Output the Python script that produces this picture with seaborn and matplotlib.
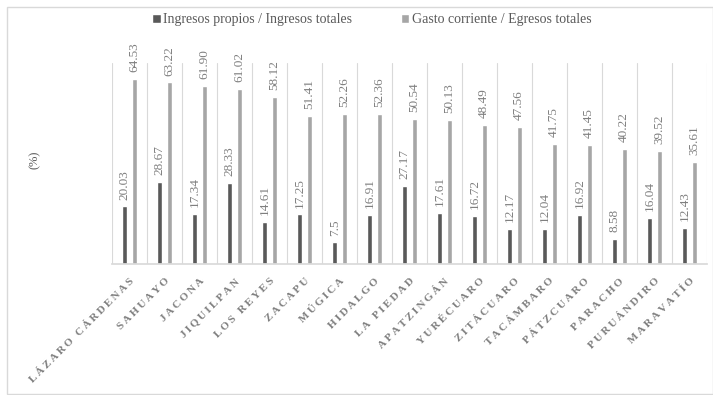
import matplotlib
matplotlib.use('Agg')
import matplotlib.pyplot as plt
import seaborn as sns
import pandas as pd
from matplotlib.patches import Rectangle
from matplotlib.ticker import FixedLocator

municipios = ['LÁZARO CÁRDENAS', 'SAHUAYO', 'JACONA', 'JIQUILPAN', 'LOS REYES',
              'ZACAPU', 'MÚGICA', 'HIDALGO', 'LA PIEDAD', 'APATZINGÁN',
              'YURÉCUARO', 'ZITÁCUARO', 'TACÁMBARO', 'PÁTZCUARO', 'PARACHO',
              'PURUÁNDIRO', 'MARAVATÍO']
ingresos_propios = [20.03, 28.67, 17.34, 28.33, 14.61, 17.25, 7.5, 16.91, 27.17,
                    17.61, 16.72, 12.17, 12.04, 16.92, 8.58, 16.04, 12.43]
gasto_corriente = [64.53, 63.22, 61.90, 61.02, 58.12, 51.41, 52.26, 52.36, 50.54,
                   50.13, 48.49, 47.56, 41.75, 41.45, 40.22, 39.52, 35.61]
serie_1 = 'Ingresos propios / Ingresos totales'
serie_2 = 'Gasto corriente / Egresos totales'

df = pd.DataFrame({
    'municipio': municipios * 2,
    'valor': ingresos_propios + gasto_corriente,
    'serie': [serie_1] * len(municipios) + [serie_2] * len(municipios),
})

sns.set_theme(style='white')
plt.rcParams['font.family'] = ['Liberation Serif', 'DejaVu Serif']

fig = plt.figure(figsize=(7.13, 3.95), dpi=100)
ax = fig.add_axes([112 / 713, 1 - 264 / 395, 595 / 713, 201 / 395])

sns.barplot(data=df, x='municipio', y='valor', hue='serie', order=municipios,
            hue_order=[serie_1, serie_2], palette=['#595959', '#a6a6a6'],
            width=0.54, gap=0.48, ax=ax)

handles, labels = ax.get_legend_handles_labels()
ax.legend_.remove()

def fmt(v):
    return '%.2f' % v if v >= 10 else '%g' % v

for cont in ax.containers:
    vals = [b.get_height() for b in cont]
    ax.bar_label(cont, labels=[fmt(v) for v in vals], rotation=90, padding=5,
                 fontsize=9.5, color='#7f7f7f')

ax.set_xlim(-0.5, len(municipios) - 0.5)
ax.set_ylim(0, 70)
ax.set_yticks([])
ax.set_xlabel('')
ax.set_ylabel('')
for s in ['left', 'right', 'top']:
    ax.spines[s].set_visible(False)
ax.spines['bottom'].set_color('#d9d9d9')
ax.xaxis.set_minor_locator(FixedLocator([i - 0.5 for i in range(len(municipios) + 1)]))
ax.grid(which='minor', axis='x', color='#d9d9d9', linewidth=0.8)
ax.tick_params(axis='x', which='both', length=0, pad=9)

# etiquetas espaciadas (como en el original)
espaciadas = ['\u2009'.join(m) for m in municipios]
ax.set_xticks(range(len(municipios)))
ax.set_xticklabels(espaciadas, rotation=45, ha='right', va='top',
                   rotation_mode='anchor', fontsize=8, color='#7f7f7f',
                   fontweight='semibold')

fig.text(35 / 713, 1 - 160 / 395, '(%)', rotation=90, ha='center', va='center',
         fontsize=9, color='#595959')

fig.legend(handles, labels, loc='center', bbox_to_anchor=(372 / 713, 1 - 20 / 395),
           ncol=2, frameon=False, fontsize=10, handlelength=0.6, handleheight=0.6,
           handletextpad=0.2, columnspacing=3.5, labelcolor='#595959')

fig.add_artist(Rectangle((7 / 713, 0.003), 1 - 7 / 713, 1 - 7 / 395 - 0.003,
                         transform=fig.transFigure, fill=False,
                         edgecolor='#d9d9d9', linewidth=1))

fig.savefig('out.png', dpi=100)
